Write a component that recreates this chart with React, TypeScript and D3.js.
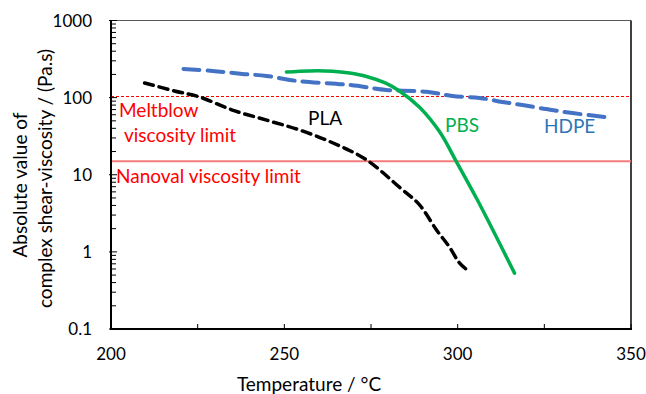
import React from "react";
import * as d3 from "d3";

// Temperature (°C) / |η*| (Pa.s) readings for each polymer
const plaTemp = [209.7, 218.3, 225.5, 235.0, 244.9, 254.4, 263.9, 273.7, 283.2, 289.0, 293.9, 297.6, 300.5, 302.8];
const plaVisc = [155, 122, 102, 69, 51, 38, 26, 15.6, 6.9, 4.06, 1.92, 1.16, 0.72, 0.58];

const pbsTemp = [250.6, 257.3, 263.9, 268.8, 273.7, 279.1, 283.2, 289.0, 294.8, 299.7, 305.7, 316.4];
const pbsVisc = [215, 222, 220, 208, 188, 155, 122, 75, 36, 14.6, 4.7, 0.53];

const hdpeTemp = [220.9, 229.3, 237.9, 244.9, 253.5, 268.8, 279.5, 291.0, 298.5, 306.3, 312.9, 318.7, 325.6, 333.1, 342.6];
const hdpeVisc = [235, 222, 203, 191, 165, 146, 126, 119, 105, 99, 88, 80, 71, 63, 56];

const xTicks = [200, 250, 300, 350];
const xMinorTicks = [225, 275, 325];
const yTicks = [0.1, 1, 10, 100, 1000];

const meltblowLimit = 100;
const nanovalLimit = 15;

const W = 646;
const H = 394;
const left = 111;
const right = 631;
const top = 20.5;
const bottom = 329;

const FONT = "Lato, 'Open Sans', sans-serif";
const TEXT_SIZE = 19;
const NUM_SIZE = 17;

export default function App() {
  const x = d3.scaleLinear().domain([200, 350]).range([left, right]);
  const y = d3.scaleLog().domain([0.1, 1000]).range([bottom, top]);

  const line = d3
    .line<[number, number]>()
    .x((d) => x(d[0]))
    .y((d) => y(d[1]))
    .curve(d3.curveCatmullRom.alpha(0.5));

  const zip = (a: number[], b: number[]) => a.map((v, i) => [v, b[i]] as [number, number]);

  const minorY: number[] = [];
  for (let e = -1; e < 3; e++) {
    for (let m = 2; m <= 9; m++) minorY.push(m * Math.pow(10, e));
  }

  return (
    <svg width={W} height={H} style={{ position: "absolute", left: 0, top: 0, background: "#fff" }}>
      {/* frame */}
      <line x1={left} x2={right} y1={top} y2={top} stroke="#595959" strokeWidth={1} />
      <line x1={right} x2={right} y1={top} y2={bottom} stroke="#000" strokeWidth={1.5} />

      {/* limit lines */}
      <line x1={left} x2={right} y1={Math.round(y(meltblowLimit)) - 1.5} y2={Math.round(y(meltblowLimit)) - 1.5} stroke="#ff0000" strokeWidth={1} strokeDasharray="3,2" />
      <line x1={left} x2={right} y1={y(nanovalLimit)} y2={y(nanovalLimit)} stroke="#f47c7c" strokeWidth={2} />

      {/* series */}
      <path d={line(zip(hdpeTemp, hdpeVisc)) || ""} fill="none" stroke="#4472c4" strokeWidth={4} strokeDasharray="16,8" strokeLinecap="round" />
      <path d={line(zip(pbsTemp, pbsVisc)) || ""} fill="none" stroke="#00b050" strokeWidth={3.5} strokeLinecap="round" />
      <path d={line(zip(plaTemp, plaVisc)) || ""} fill="none" stroke="#000" strokeWidth={3.5} strokeDasharray="9,6" strokeLinecap="round" />

      {/* axes */}
      <line x1={left} x2={left} y1={top} y2={bottom} stroke="#000" strokeWidth={2} />
      <line x1={left - 1} x2={right + 1} y1={bottom} y2={bottom} stroke="#000" strokeWidth={2} />
      {minorY.map((v) => (
        <line key={"my" + v} x1={left} x2={left + 5} y1={y(v)} y2={y(v)} stroke="#000" strokeWidth={1} />
      ))}
      {yTicks.map((v) => (
        <g key={"y" + v}>
          <line x1={left - 2} x2={left + 6} y1={y(v)} y2={y(v)} stroke="#000" strokeWidth={1} />
          <text x={92} y={y(v) + 6} textAnchor="end" fontFamily={FONT} fontSize={NUM_SIZE} fill="#000">
            {v}
          </text>
        </g>
      ))}
      {[...xTicks, ...xMinorTicks].map((v) => (
        <line key={"xt" + v} x1={x(v)} x2={x(v)} y1={bottom} y2={bottom - 5} stroke="#000" strokeWidth={1} />
      ))}
      {xTicks.map((v) => (
        <text key={"x" + v} x={x(v)} y={360} textAnchor="middle" fontFamily={FONT} fontSize={NUM_SIZE} fill="#000">
          {v}
        </text>
      ))}

      {/* axis titles */}
      <text x={309} y={391} textAnchor="middle" fontFamily={FONT} fontSize={TEXT_SIZE} fill="#000">
        Temperature / °C
      </text>
      <text transform="translate(27,185) rotate(-90)" textAnchor="middle" fontFamily={FONT} fontSize={TEXT_SIZE} fill="#000">
        Absolute value of
      </text>
      <text transform="translate(52,178.5) rotate(-90)" textAnchor="middle" fontFamily={FONT} fontSize={TEXT_SIZE} fill="#000">
        complex shear-viscosity / (Pa.s)
      </text>

      {/* annotations */}
      <text x={119} y={117} fontFamily={FONT} fontSize={TEXT_SIZE} fill="#ff0000">Meltblow</text>
      <text x={124} y={142} fontFamily={FONT} fontSize={TEXT_SIZE} fill="#ff0000">viscosity limit</text>
      <text x={116} y={183} fontFamily={FONT} fontSize={TEXT_SIZE} fill="#ff0000">Nanoval viscosity limit</text>
      <text x={308} y={125} fontFamily={FONT} fontSize={TEXT_SIZE} fill="#000">PLA</text>
      <text x={445} y={132} fontFamily={FONT} fontSize={TEXT_SIZE} fill="#00b050">PBS</text>
      <text x={544} y={133} fontFamily={FONT} fontSize={TEXT_SIZE} fill="#2e75b6">HDPE</text>
    </svg>
  );
}
